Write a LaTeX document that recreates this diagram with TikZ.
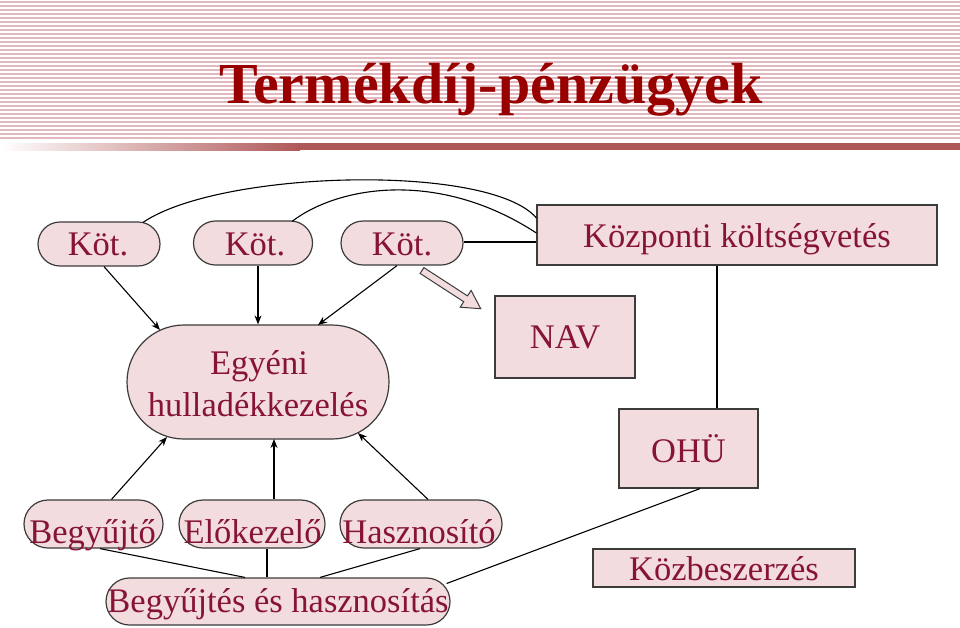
\documentclass[tikz,border=0pt]{standalone}
\usepackage{fontspec}
\setmainfont{Liberation Serif}
\usetikzlibrary{arrows.meta,shapes.misc,calc}
\definecolor{txt}{RGB}{135,20,55}
\definecolor{ttl}{RGB}{153,0,0}
\definecolor{boxfill}{RGB}{242,220,222}
\definecolor{boxline}{RGB}{60,60,60}
\definecolor{stripe}{RGB}{224,184,190}
\definecolor{barc}{RGB}{176,88,88}
\begin{document}
\begin{tikzpicture}[x=1pt,y=-1pt,
  pill/.style={rounded rectangle, draw=boxline, fill=boxfill, line width=1.2pt, inner sep=0pt},
  box/.style={rectangle, draw=boxline, fill=boxfill, line width=1.2pt, inner sep=0pt},
  lbl/.style={text=txt, font=\fontsize{34.5}{42}\selectfont, inner sep=0pt, anchor=base},
  conn/.style={line width=1.1pt, black},
  arr/.style={conn, -{Stealth[length=9pt,width=7pt]}}]
\useasboundingbox (0,0) rectangle (960,627);
\fill[white] (0,0) rectangle (960,627);
% header
\foreach \i in {0,...,34} \fill[stripe] (0,{1+4*\i}) rectangle (960,{3+4*\i});
\shade[left color=white, right color=barc] (0,143) rectangle (300,150);
\fill[barc] (300,143) rectangle (960,150);
\node[text=ttl, font=\fontsize{58}{60}\selectfont\bfseries, anchor=base, inner sep=0pt] (title) at (491,103) {Termékdíj-pénzügyek};

% nodes
\node[pill, minimum width=122pt, minimum height=44pt] (k1) at (99,244) {};
\node[pill, minimum width=119pt, minimum height=44pt] (k2) at (253,243) {};
\node[pill, minimum width=122pt, minimum height=44pt] (k3) at (402,243) {};
\node[box, minimum width=400pt, minimum height=60pt] (kozp) at (737,235) {};
\node[box, minimum width=140pt, minimum height=82pt] (nav) at (565,337) {};
\node[box, minimum width=139pt, minimum height=79pt] (ohu) at (688.5,448.5) {};
\node[box, minimum width=262pt, minimum height=38pt] (kbsz) at (724,568) {};
\node[pill, minimum width=262pt, minimum height=114pt] (egy) at (258,382) {};
\node[pill, minimum width=139pt, minimum height=48pt] (b1) at (93.5,524) {};
\node[pill, minimum width=146pt, minimum height=48pt] (b2) at (252,524) {};
\node[pill, minimum width=162pt, minimum height=48pt] (b3) at (421,524) {};
\node[pill, minimum width=344pt, minimum height=47pt] (bh) at (278,601.5) {};

% labels
\node[lbl] (k1t) at (98,255) {Köt.};
\node[lbl] (k2t) at (255,255) {Köt.};
\node[lbl] (k3t) at (402,255) {Köt.};
\node[lbl] (kozpt) at (737,247) {Központi költségvetés};
\node[lbl] (navt) at (565,348) {NAV};
\node[lbl] (ohut) at (688.5,462) {OHÜ};
\node[lbl] (kbszt) at (724,580) {Közbeszerzés};
\node[lbl] (egyt1) at (259,374) {Egyéni};
\node[lbl] (egyt2) at (258,416) {hulladékkezelés};
\node[lbl] (b1t) at (92.5,543) {Begyűjtő};
\node[lbl] (b2t) at (252.5,543) {Előkezelő};
\node[lbl] (b3t) at (419,543) {Hasznosító};
\node[lbl] (bht) at (278,612) {Begyűjtés és hasznosítás};

% Köt -> Egyéni
\draw[arr] ($(k1.south)+(5,0)$) -- ($(egy.center)+(-98,-52)$);
\draw[arr] (k2.south -| egy.north) -- (egy.north);
\draw[arr] ($(k3.south)+(-5,0)$) -- ($(egy.center)+(60,-57)$);
% bottom -> Egyéni
\draw[arr] ($(b1.north)+(18,0)$) -- ($(egy.center)+(-91,55)$);
\draw[arr] ($(b2.north)+(22,0)$) -- ($(egy.center)+(16,57)$);
\draw[arr] ($(b3.north)+(7,0)$) -- ($(egy.center)+(100,51)$);
% bottom -> Begyűjtés és hasznosítás
\draw[conn] ($(b1.south)+(6.5,0)$) -- ($(bh.north)+(-33,0)$);
\draw[conn] ($(b2.south)+(15,0)$) -- ($(bh.north)+(-11,0)$);
\draw[conn] ($(b3.south)+(-1,0)$) -- ($(bh.north)+(42,0)$);
\draw[conn] ($(bh.east)+(-4,-18)$) -- ($(ohu.south)+(11.5,0)$);
% Központi
\draw[conn] ($(kozp.south)+(-20,0)$) -- ($(ohu.north)+(28.5,0)$);
\draw[conn] ($(k3.east)+(0,-1)$) -- ($(k3.east -| kozp.west)+(0,-1)$);
\draw[conn] ($(k1.north)+(44,1)$) .. controls (220,170) and (490,163) .. ($(kozp.west)+(0,-17)$);
\draw[conn] ($(k2.north)+(39,1)$) .. controls (340,185) and (440,170) .. ($(kozp.west)+(0,-2)$);
% block arrow Köt. -> NAV
\fill[boxfill, draw=boxline, line width=1pt, line join=miter]
  (423.9,267.6) -- (467.5,295.9) -- (471.1,290.4) -- (480.7,308.7) -- (460.2,307.2) -- (463.7,301.7) -- (420.1,273.4) -- cycle;
\end{tikzpicture}
\end{document}
